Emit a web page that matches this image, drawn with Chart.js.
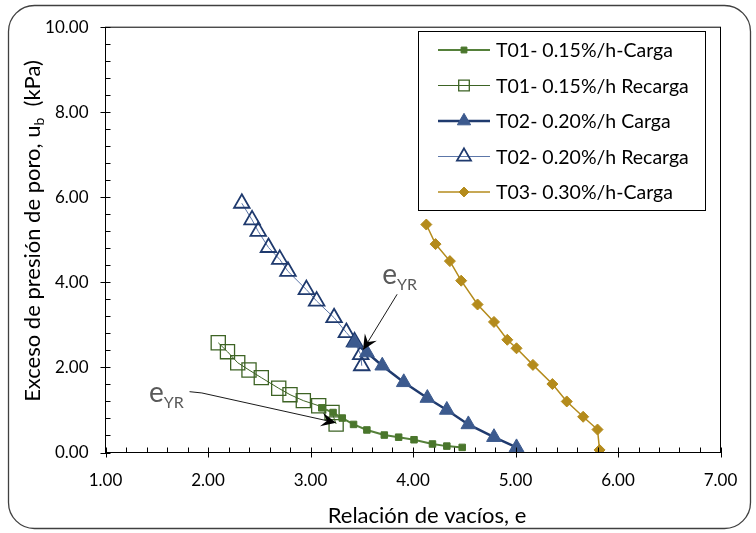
<!DOCTYPE html>
<html><head><meta charset="utf-8">
<script src="https://cdn.jsdelivr.net/npm/chart.js@4"></script>
<style>html,body{margin:0;padding:0;background:#fff}#wrap{width:756px;height:533px}</style>
</head><body><div id="wrap"><canvas id="c" width="756" height="533"></canvas></div>
<script>
// ---- data (void ratio e, excess pore pressure u_b in kPa) ----
const seriesNames = ['T01- 0.15%/h-Carga','T01- 0.15%/h Recarga','T02- 0.20%/h Carga','T02- 0.20%/h Recarga','T03- 0.30%/h-Carga'];
const t01CargaE = [3.11, 3.22, 3.31, 3.42, 3.55, 3.72, 3.86, 4.01, 4.19, 4.33, 4.48];
const t01CargaU = [1.05, 0.94, 0.81, 0.66, 0.53, 0.41, 0.36, 0.30, 0.20, 0.15, 0.12];
const t01RecE = [2.10, 2.19, 2.29, 2.40, 2.52, 2.69, 2.80, 2.93, 3.08, 3.21, 3.25];
const t01RecU = [2.58, 2.37, 2.11, 1.94, 1.76, 1.51, 1.36, 1.22, 1.10, 0.94, 0.67];
const t02CargaE = [3.43, 3.55, 3.70, 3.91, 4.14, 4.33, 4.54, 4.79, 5.01];
const t02CargaU = [2.58, 2.35, 2.04, 1.65, 1.28, 1.00, 0.66, 0.36, 0.12];
const t02RecE = [3.50, 3.49, 3.43, 3.35, 3.23, 3.06, 2.96, 2.78, 2.70, 2.59, 2.49, 2.43, 2.33];
const t02RecU = [2.04, 2.30, 2.60, 2.82, 3.17, 3.56, 3.83, 4.26, 4.54, 4.82, 5.20, 5.47, 5.86];
const t03E = [4.13, 4.22, 4.36, 4.47, 4.63, 4.79, 4.92, 5.01, 5.17, 5.36, 5.50, 5.66, 5.80, 5.82];
const t03U = [5.36, 4.90, 4.50, 4.04, 3.48, 3.07, 2.65, 2.45, 2.06, 1.61, 1.20, 0.84, 0.54, 0.06];
// axis ticks
const xMajor = [1, 2, 3, 4, 5, 6, 7];
const yMajor = [0, 2, 4, 6, 8, 10];
const xMinorPerMajor = 5, yMinorPerMajor = 5;
// annotations (data coordinates)
const annoText = ['e', 'YR'];
const anno1Text = [3.70, 3.96];
const anno1Arrow = [[3.845, 3.72], [3.512, 2.41]];
const anno2Text = [1.425, 1.19];
const anno2Arrow = [[1.82, 1.43], [1.94, 1.40], [3.25, 0.70]];

const zip = (a, b) => a.map((v, i) => ({x: v, y: b[i]}));
const FONT = 'Lato, "Open Sans", sans-serif';
const GREEN = '#4a762c', GREEN_D = '#3d6324', NAVY = '#1f3a6e', NAVY_F = '#3c5a8e', GOLD = '#b48b1c';

const datasets = [
  {label: seriesNames[0], data: zip(t01CargaE, t01CargaU), borderColor: '#55803a', borderWidth: 2,
   pointStyle: 'rect', pointRadius: 4.6, backgroundColor: GREEN, pointBorderColor: GREEN, pointBorderWidth: 1, order: 1},
  {label: seriesNames[1], data: zip(t01RecE, t01RecU), borderColor: GREEN_D, borderWidth: 1,
   pointStyle: 'rect', pointRadius: 10, backgroundColor: 'rgba(0,0,0,0)', pointBorderColor: GREEN_D, pointBorderWidth: 1.3, order: 2},
  {label: seriesNames[2], data: zip(t02CargaE, t02CargaU), borderColor: NAVY, borderWidth: 2.5,
   pointStyle: 'triangle', pointRadius: 8.5, backgroundColor: NAVY_F, pointBorderColor: NAVY_F, pointBorderWidth: 1, order: 3},
  {label: seriesNames[3], data: zip(t02RecE, t02RecU), borderColor: '#5c76a8', borderWidth: 1,
   pointStyle: 'triangle', pointRadius: 9, backgroundColor: 'rgba(0,0,0,0)', pointBorderColor: NAVY, pointBorderWidth: 1.8, order: 4},
  {label: seriesNames[4], data: zip(t03E, t03U), borderColor: GOLD, borderWidth: 1.5,
   pointStyle: 'rectRot', pointRadius: 5.5, backgroundColor: GOLD, pointBorderColor: GOLD, pointBorderWidth: 1, order: 5}
];
datasets.forEach(d => { d.showLine = true; d.fill = false; d.tension = 0; d.pointHoverRadius = d.pointRadius; });

function drawArrow(ctx, pts) {
  ctx.save();
  ctx.strokeStyle = '#000'; ctx.fillStyle = '#000'; ctx.lineWidth = 0.9;
  const n = pts.length, tip = pts[n - 1], prev = pts[n - 2];
  const ang = Math.atan2(tip[1] - prev[1], tip[0] - prev[0]);
  const L = 15, W = 7;
  ctx.beginPath();
  ctx.moveTo(pts[0][0], pts[0][1]);
  for (let i = 1; i < n - 1; i++) ctx.lineTo(pts[i][0], pts[i][1]);
  ctx.lineTo(tip[0] - Math.cos(ang) * L * 0.6, tip[1] - Math.sin(ang) * L * 0.6);
  ctx.stroke();
  const ca = Math.cos(ang), sa = Math.sin(ang);
  const P = (dx, dy) => [tip[0] + dx * ca - dy * sa, tip[1] + dx * sa + dy * ca];
  const p1 = P(-L, -W), p2 = P(-L * 0.62, 0), p3 = P(-L, W);
  ctx.beginPath();
  ctx.moveTo(tip[0], tip[1]); ctx.lineTo(p1[0], p1[1]); ctx.lineTo(p2[0], p2[1]); ctx.lineTo(p3[0], p3[1]);
  ctx.closePath(); ctx.fill();
  ctx.restore();
}
function drawSubText(ctx, x, y, main, sub, size, subSize, color) {
  ctx.save();
  ctx.fillStyle = color; ctx.textBaseline = 'alphabetic'; ctx.textAlign = 'left';
  ctx.font = size + 'px ' + FONT; ctx.fillText(main, x, y);
  const w = ctx.measureText(main).width;
  ctx.font = subSize + 'px ' + FONT; ctx.fillText(sub, x + w, y + size * 0.22);
  ctx.restore();
}

const decor = {
  id: 'decor',
  beforeDraw(chart) {
    const ctx = chart.ctx; ctx.save(); ctx.fillStyle = '#fff'; ctx.fillRect(0, 0, chart.width, chart.height); ctx.restore();
  },
  afterDatasetsDraw(chart) {
    const {ctx, chartArea: a, scales: {x, y}} = chart;
    ctx.save();
    ctx.strokeStyle = '#000'; ctx.lineWidth = 1;
    ctx.strokeRect(a.left, a.top, a.right - a.left, a.bottom - a.top);
    ctx.beginPath();
    for (let i = 0; i < xMajor.length; i++) {
      const px = Math.round(x.getPixelForValue(xMajor[i])) + 0.5;
      ctx.moveTo(px, a.bottom - 5); ctx.lineTo(px, a.bottom + 5);
      if (i < xMajor.length - 1) {
        const step = (xMajor[i + 1] - xMajor[i]) / xMinorPerMajor;
        for (let k = 1; k < xMinorPerMajor; k++) {
          const mx = Math.round(x.getPixelForValue(xMajor[i] + k * step)) + 0.5;
          ctx.moveTo(mx, a.bottom); ctx.lineTo(mx, a.bottom - 5);
        }
      }
    }
    for (let i = 0; i < yMajor.length; i++) {
      const py = Math.round(y.getPixelForValue(yMajor[i])) + 0.5;
      ctx.moveTo(a.left - 5, py); ctx.lineTo(a.left + 5, py);
      if (i < yMajor.length - 1) {
        const step = (yMajor[i + 1] - yMajor[i]) / yMinorPerMajor;
        for (let k = 1; k < yMinorPerMajor; k++) {
          const my = Math.round(y.getPixelForValue(yMajor[i] + k * step)) + 0.5;
          ctx.moveTo(a.left, my); ctx.lineTo(a.left + 5, my);
        }
      }
    }
    ctx.stroke();
    ctx.restore();

    // annotations
    const P = p => [x.getPixelForValue(p[0]), y.getPixelForValue(p[1])];
    drawArrow(ctx, anno1Arrow.map(P));
    drawArrow(ctx, anno2Arrow.map(P));
    const t1 = P(anno1Text), t2 = P(anno2Text);
    drawSubText(ctx, t1[0], t1[1], annoText[0], annoText[1], 28, 16, '#595959');
    drawSubText(ctx, t2[0], t2[1], annoText[0], annoText[1], 28, 16, '#595959');

    // legend
    ctx.save();
    ctx.fillStyle = '#fff';
    ctx.fillRect(418.5, 31.5, 287, 179);
    ctx.strokeStyle = '#000'; ctx.lineWidth = 1;
    ctx.strokeRect(418.5, 31.5, 287, 179);
    chart.data.datasets.forEach((d, i) => {
      const ry = 50 + i * 35.5;
      ctx.strokeStyle = d.borderColor; ctx.lineWidth = d.borderWidth;
      ctx.beginPath(); ctx.moveTo(438, ry); ctx.lineTo(490, ry); ctx.stroke();
      ctx.fillStyle = d.backgroundColor; ctx.strokeStyle = d.pointBorderColor; ctx.lineWidth = d.pointBorderWidth;
      const r = d.pointStyle === 'rect' && d.pointRadius > 6 ? 7.5 : d.pointRadius * 0.9;
      Chart.helpers.drawPoint(ctx, {pointStyle: d.pointStyle, radius: r, rotation: 0, borderWidth: d.pointBorderWidth}, 464, ry);
      ctx.fillStyle = '#000'; ctx.font = '19.5px ' + FONT; ctx.textBaseline = 'middle'; ctx.textAlign = 'left';
      ctx.fillText(d.label, 496, ry + 1);
    });
    ctx.restore();

    // axis titles
    ctx.save();
    ctx.fillStyle = '#000'; ctx.textBaseline = 'middle';
    ctx.font = '22px ' + FONT; ctx.textAlign = 'center';
    ctx.fillText('Relación de vacíos, e', 427, 516);
    ctx.translate(32, 231); ctx.rotate(-Math.PI / 2);
    const s1 = 'Exceso de presión de poro, u', s2 = 'b', s3 = '  (kPa)';
    ctx.font = '22px ' + FONT; const w1 = ctx.measureText(s1).width, w3 = ctx.measureText(s3).width;
    ctx.font = '14px ' + FONT; const w2 = ctx.measureText(s2).width;
    let cx = -(w1 + w2 + w3) / 2; ctx.textAlign = 'left'; ctx.textBaseline = 'alphabetic';
    ctx.font = '22px ' + FONT; ctx.fillText(s1, cx, 8); cx += w1;
    ctx.font = '14px ' + FONT; ctx.fillText(s2, cx, 12); cx += w2;
    ctx.font = '22px ' + FONT; ctx.fillText(s3, cx, 8);
    ctx.restore();

    // outer rounded frame
    ctx.save();
    ctx.strokeStyle = '#404040'; ctx.lineWidth = 1.3;
    ctx.beginPath(); ctx.roundRect(8.5, 5.5, 742, 523, 26); ctx.stroke();
    ctx.restore();
  }
};

new Chart(document.getElementById('c'), {
  type: 'scatter',
  data: {datasets},
  options: {
    responsive: false, animation: false, devicePixelRatio: 1,
    layout: {padding: {left: 0, right: 35.5, top: 25.5, bottom: 0}},
    plugins: {legend: {display: false}, tooltip: {enabled: false}},
    scales: {
      x: {type: 'linear', min: xMajor[0], max: xMajor[xMajor.length - 1],
          grid: {display: false, drawTicks: false}, border: {display: false},
          ticks: {stepSize: 1, padding: 18, color: '#000', font: {family: FONT, size: 17}, callback: v => Number(v).toFixed(2), maxRotation: 0},
          afterFit: s => { s.height = 80.5; }},
      y: {type: 'linear', min: yMajor[0], max: yMajor[yMajor.length - 1],
          grid: {display: false, drawTicks: false}, border: {display: false},
          ticks: {stepSize: 2, padding: 17, color: '#000', font: {family: FONT, size: 17}, callback: v => Number(v).toFixed(2)},
          afterFit: s => { s.width = 105.5; }}
    }
  },
  plugins: [decor]
});
</script></body></html>
